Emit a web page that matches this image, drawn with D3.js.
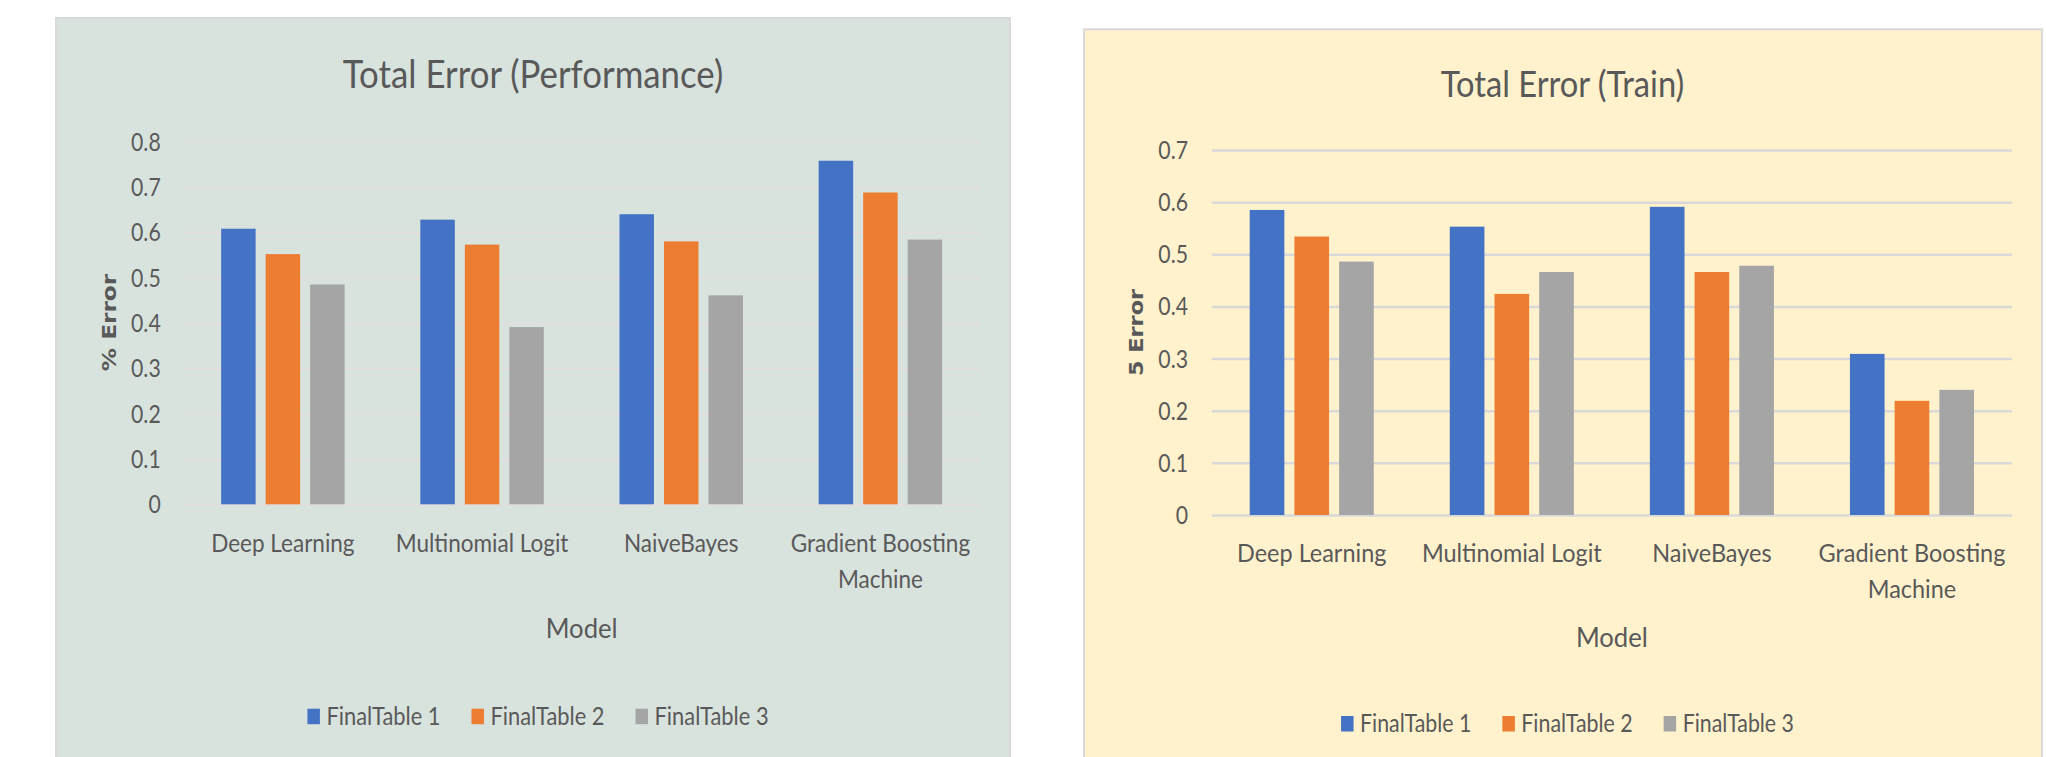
<!DOCTYPE html>
<html><head><meta charset="utf-8">
<script src="https://cdn.jsdelivr.net/npm/d3@7"></script>
<style>html,body{margin:0;padding:0;background:#fff;overflow:hidden}</style>
</head><body>
<svg id="chart" width="2046" height="757"></svg>
<script>
// ---- data ----
const categories = ["Deep Learning", "Multinomial Logit", "NaiveBayes", "Gradient Boosting Machine"];
const seriesNames = ["FinalTable 1", "FinalTable 2", "FinalTable 3"];
const perfTable1 = [0.608, 0.628, 0.640, 0.758];
const perfTable2 = [0.552, 0.573, 0.580, 0.688];
const perfTable3 = [0.485, 0.391, 0.461, 0.584];
const trainTable1 = [0.585, 0.553, 0.591, 0.309];
const trainTable2 = [0.534, 0.424, 0.466, 0.219];
const trainTable3 = [0.486, 0.466, 0.478, 0.240];
const perfTicks = [0, 0.1, 0.2, 0.3, 0.4, 0.5, 0.6, 0.7, 0.8];
const trainTicks = [0, 0.1, 0.2, 0.3, 0.4, 0.5, 0.6, 0.7];

// ---- style ----
const colors = ["#4472C4", "#ED7D31", "#A5A5A5"];
const KS = {title: 0.90, cat: 0.935, model: 0.92, legend: 0.885, tick: 0.85}; // horizontal compression
const FONT = "Lato, 'Open Sans', sans-serif";
const TEXT = "#595959";
const svg = d3.select("#chart");

function txt(parent, x, y, s, fs, anchor, k) {
  return parent.append("text")
    .attr("transform", `translate(${x},${y}) scale(${k},1)`)
    .attr("text-anchor", anchor)
    .attr("font-size", fs)
    .attr("font-family", FONT)
    .attr("fill", TEXT)
    .text(s);
}

function drawPanel(c) {
  const g = svg.append("g");
  g.append("rect").attr("x", c.box[0]).attr("y", c.box[1])
    .attr("width", c.box[2] - c.box[0]).attr("height", c.box[3] - c.box[1])
    .attr("fill", c.bg).attr("stroke", "#D9D9D9").attr("stroke-width", 2);

  const y = d3.scaleLinear().domain([0, c.yMax]).range([c.plot.bottom, c.plot.top]);
  const x0 = d3.scaleBand().domain(categories).range([c.plot.left, c.plot.right]).padding(0);
  const x1 = d3.scaleBand().domain(seriesNames).range([0, x0.bandwidth()])
    .paddingInner(0.225).paddingOuter(0.85);

  // gridlines
  const axis = d3.axisLeft(y).tickValues(c.ticks).tickSize(-(c.plot.right - c.plot.left)).tickFormat("");
  const ga = g.append("g").attr("transform", `translate(${c.plot.left},0)`).call(axis);
  ga.select(".domain").remove();
  ga.selectAll(".tick line").attr("stroke", c.grid).attr("stroke-width", c.gridW);

  // tick labels
  const fmt = d => d === 0 ? "0" : d3.format(".1f")(d);
  c.ticks.forEach(t => txt(g, c.tickRight, y(t) + c.tickFs * 0.36, fmt(t), c.tickFs, "end", KS.tick));

  // bars
  const data = categories.map((cat, i) => ({cat, vals: c.values.map((s, j) => ({name: seriesNames[j], v: s[i], j}))}));
  const grp = g.selectAll("g.cat").data(data).enter().append("g")
    .attr("transform", d => `translate(${x0(d.cat)},0)`);
  grp.selectAll("rect").data(d => d.vals).enter().append("rect")
    .attr("x", d => x1(d.name)).attr("width", x1.bandwidth())
    .attr("y", d => y(d.v)).attr("height", d => y(0) - y(d.v))
    .attr("fill", d => colors[d.j]);

  // category labels (wrapped)
  categories.forEach(cat => {
    const words = cat.split(" ");
    const lines = [];
    let cur = "";
    words.forEach(w => {
      const test = cur ? cur + " " + w : w;
      const t = txt(g, 0, -100, test, c.catFs, "start", KS.cat);
      const wdt = t.node().getComputedTextLength() * KS.cat;
      t.remove();
      if (wdt > x0.bandwidth() && cur) { lines.push(cur); cur = w; } else cur = test;
    });
    lines.push(cur);
    lines.forEach((ln, k) => txt(g, x0(cat) + x0.bandwidth() / 2, c.catY + k * c.catLH, ln, c.catFs, "middle", KS.cat));
  });

  // axis titles
  txt(g, (c.plot.left + c.plot.right) / 2, c.modelY, "Model", c.modelFs, "middle", KS.model);
  g.append("text")
    .attr("transform", `translate(${c.yTitleX + 0.729 * c.yTitleFs / 2},${c.yTitleY}) rotate(-90) scale(${c.yTitleStretch},1)`)
    .attr("text-anchor", "middle").attr("font-size", c.yTitleFs)
    .attr("font-family", "'DejaVu Sans', sans-serif").attr("font-weight", 700)
    .attr("fill", TEXT).text(c.yTitle);

  // chart title
  txt(g, c.titleX, c.titleY, c.title, c.titleFs, "middle", KS.title);

  // legend
  const lg = g.append("g");
  let xx = 0;
  seriesNames.forEach((s, j) => {
    lg.append("rect").attr("x", xx).attr("y", c.legendY - 16.3).attr("width", 12.5).attr("height", 15.5)
      .attr("fill", colors[j]);
    const t = txt(lg, xx + 19, c.legendY, s, c.legendFs, "start", KS.legend);
    xx += 19 + t.node().getComputedTextLength() * KS.legend + (j < seriesNames.length - 1 ? 31 : 0);
  });
  lg.attr("transform", `translate(${c.legendCX - xx / 2},0)`);
}

drawPanel({
  box: [56, 18, 1010, 780], bg: "#D9E3DE", grid: "#E2DEDE", gridW: 2,
  plot: {left: 183.3, right: 980, top: 141.7, bottom: 504.3},
  yMax: 0.8, ticks: perfTicks, values: [perfTable1, perfTable2, perfTable3],
  title: "Total Error (Performance)", titleX: 533, titleY: 88.3, titleFs: 38.7,
  yTitle: "% Error", yTitleX: 108.3, yTitleY: 322.5, yTitleFs: 20, yTitleStretch: 1.16,
  catY: 552.3, catLH: 36, catFs: 24.1, modelY: 638.3, modelFs: 27.9,
  legendY: 725, legendFs: 24.7, legendCX: 538, tickRight: 160.7, tickFs: 25
});
drawPanel({
  box: [1084, 29.3, 2042, 780], bg: "#FFF2CC", grid: "#D9D9D9", gridW: 2.5,
  plot: {left: 1211.7, right: 2012, top: 150, bottom: 515},
  yMax: 0.7, ticks: trainTicks, values: [trainTable1, trainTable2, trainTable3],
  title: "Total Error (Train)", titleX: 1562.5, titleY: 96.7, titleFs: 36.3,
  yTitle: "5 Error", yTitleX: 1135.8, yTitleY: 332.5, yTitleFs: 20, yTitleStretch: 1.12,
  catY: 562.3, catLH: 36, catFs: 25.1, modelY: 646.7, modelFs: 27.9,
  legendY: 732.3, legendFs: 24.1, legendCX: 1567.5, tickRight: 1188, tickFs: 25
});
</script>
</body></html>
